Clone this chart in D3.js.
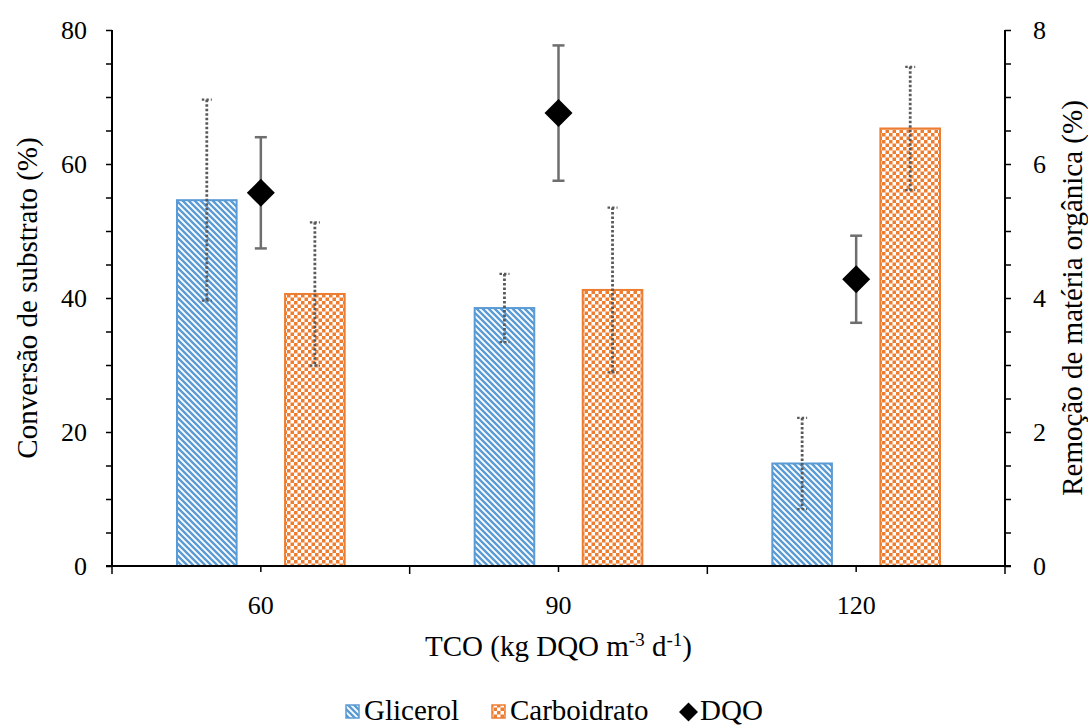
<!DOCTYPE html>
<html>
<head>
<meta charset="utf-8">
<script src="https://cdn.jsdelivr.net/npm/d3@7"></script>
<style>
  body { margin: 0; background: #fff; }
  text { font-family: "Liberation Serif", "Times New Roman", serif; fill: #000; }
</style>
</head>
<body>
<script>
// data
var categories = ["60", "90", "120"];
var series = ["Glicerol", "Carboidrato"];
var glicerol = [54.6, 38.5, 15.3];
var glicerolErr = [15.0, 5.1, 6.8];
var carboidrato = [40.6, 41.2, 65.3];
var carboidratoErr = [10.7, 12.3, 9.2];
var dqo = [5.57, 6.76, 4.28];
var dqoErr = [0.83, 1.01, 0.65];
var leftTicks = [0, 20, 40, 60, 80];
var rightTicks = [0, 2, 4, 6, 8];

var W = 1088, H = 727;
var pLeft = 112, pRight = 1005, pTop = 30, pBottom = 566;

var svg = d3.select("body").append("svg")
    .attr("width", W)
    .attr("height", H);

var defs = svg.append("defs");

// blue downward diagonal hatch
var pBlue = defs.append("pattern")
    .attr("id", "hatchBlue")
    .attr("patternUnits", "userSpaceOnUse")
    .attr("width", 6).attr("height", 6);
pBlue.append("rect").attr("width", 6).attr("height", 6).attr("fill", "#fff");
pBlue.append("path")
    .attr("d", "M-1,-1 L7,7 M-4,2 L1,7 M2,-4 L7,1")
    .attr("stroke", "#5b9bd5")
    .attr("stroke-width", 2.4);

// orange checker
var pOr = defs.append("pattern")
    .attr("id", "checkOrange")
    .attr("patternUnits", "userSpaceOnUse")
    .attr("width", 7).attr("height", 7);
pOr.append("rect").attr("width", 7).attr("height", 7).attr("fill", "#fff");
pOr.append("rect").attr("x", 0).attr("y", 0).attr("width", 3.5).attr("height", 3.5).attr("fill", "#ed7d31");
pOr.append("rect").attr("x", 3.5).attr("y", 3.5).attr("width", 3.5).attr("height", 3.5).attr("fill", "#ed7d31");

var x = d3.scaleBand().domain(categories).range([pLeft, pRight]);
var bw = x.bandwidth();
var xSub = d3.scaleBand().domain(series)
    .range([bw * 0.215, bw * 0.785])
    .paddingInner(0.43);
var y = d3.scaleLinear().domain([0, 80]).range([pBottom, pTop]);
var y2 = d3.scaleLinear().domain([0, 8]).range([pBottom, pTop]);

var fills = { "Glicerol": "url(#hatchBlue)", "Carboidrato": "url(#checkOrange)" };
var strokes = { "Glicerol": "#5b9bd5", "Carboidrato": "#ed7d31" };
var vals = { "Glicerol": glicerol, "Carboidrato": carboidrato };
var errs = { "Glicerol": glicerolErr, "Carboidrato": carboidratoErr };

// bars
series.forEach(function(s) {
  svg.append("g").selectAll("rect")
      .data(categories)
    .enter().append("rect")
      .attr("x", function(c) { return x(c) + xSub(s) + 1; })
      .attr("y", function(c, i) { return y(vals[s][i]); })
      .attr("width", xSub.bandwidth() - 2)
      .attr("height", function(c, i) { return pBottom - y(vals[s][i]); })
      .attr("fill", fills[s])
      .attr("stroke", strokes[s])
      .attr("stroke-width", 2);
});

// dotted error bars on the bars
series.forEach(function(s) {
  var g = svg.append("g").selectAll("g")
      .data(categories)
    .enter().append("g")
      .attr("stroke", "#595959")
      .attr("stroke-width", 2.8)
      .attr("stroke-dasharray", "2.5,2");
  var cx = function(c) { return x(c) + xSub(s) + xSub.bandwidth() / 2; };
  g.append("line")
      .attr("x1", cx).attr("x2", cx)
      .attr("y1", function(c, i) { return y(vals[s][i] + errs[s][i]); })
      .attr("y2", function(c, i) { return y(vals[s][i] - errs[s][i]); });
  [1, -1].forEach(function(sign) {
    g.append("line")
        .attr("x1", function(c) { return cx(c) - 5; })
        .attr("x2", function(c) { return cx(c) + 5; })
        .attr("y1", function(c, i) { return y(vals[s][i] + sign * errs[s][i]); })
        .attr("y2", function(c, i) { return y(vals[s][i] + sign * errs[s][i]); })
        .attr("stroke-width", 2.2);
  });
});

// DQO error bars + diamonds (right axis)
var dg = svg.append("g").selectAll("g")
    .data(categories)
  .enter().append("g");
var dx = function(c) { return x(c) + bw / 2; };
dg.append("line")
    .attr("x1", dx).attr("x2", dx)
    .attr("y1", function(c, i) { return y2(dqo[i] + dqoErr[i]); })
    .attr("y2", function(c, i) { return y2(dqo[i] - dqoErr[i]); })
    .attr("stroke", "#6e6e6e").attr("stroke-width", 2.5);
[1, -1].forEach(function(sign) {
  dg.append("line")
      .attr("x1", function(c) { return dx(c) - 6; })
      .attr("x2", function(c) { return dx(c) + 6; })
      .attr("y1", function(c, i) { return y2(dqo[i] + sign * dqoErr[i]); })
      .attr("y2", function(c, i) { return y2(dqo[i] + sign * dqoErr[i]); })
      .attr("stroke", "#6e6e6e").attr("stroke-width", 2.5);
});
dg.append("path")
    .attr("d", "M0,-14 L14,0 L0,14 L-14,0 Z")
    .attr("transform", function(c, i) { return "translate(" + dx(c) + "," + y2(dqo[i]) + ")"; })
    .attr("fill", "#000");

// axes
var yAxis = svg.append("g")
    .attr("transform", "translate(" + pLeft + ",0)")
    .call(d3.axisLeft(y).tickValues(d3.range(0, 81, 5)).tickSize(6)
      .tickFormat(function(d) { return leftTicks.indexOf(d) >= 0 ? d : ""; }));
var y2Axis = svg.append("g")
    .attr("transform", "translate(" + pRight + ",0)")
    .call(d3.axisRight(y2).tickValues(d3.range(0, 8.01, 0.5)).tickSize(6)
      .tickFormat(function(d) { return rightTicks.indexOf(d) >= 0 ? d : ""; }));
var xAxis = svg.append("g")
    .attr("transform", "translate(0," + pBottom + ")")
    .call(d3.axisBottom(x).tickSize(0).tickPadding(30));

[yAxis, y2Axis, xAxis].forEach(function(a) {
  a.attr("font-family", null);
  a.select(".domain").attr("stroke", "#000").attr("stroke-width", 2);
  a.selectAll(".tick line").attr("stroke", "#000").attr("stroke-width", 1.5);
  a.selectAll("text").style("font-size", "26px");
});
yAxis.selectAll("text").attr("x", -25);
y2Axis.selectAll("text").attr("x", 28);
yAxis.select(".domain").attr("d", "M0," + pBottom + "V" + pTop);
y2Axis.select(".domain").attr("d", "M0," + pBottom + "V" + pTop);
xAxis.select(".domain").attr("d", "M" + (pLeft - 6) + ",0H" + (pRight + 6));

// x ticks: boundaries long, centres short
var xt = svg.append("g").attr("stroke", "#000").attr("stroke-width", 1.5);
xt.selectAll("line.b")
    .data(categories.concat(["end"]))
  .enter().append("line")
    .attr("x1", function(c, i) { return i < 3 ? x(c) : pRight; })
    .attr("x2", function(c, i) { return i < 3 ? x(c) : pRight; })
    .attr("y1", pBottom).attr("y2", pBottom + 8);
xt.selectAll("line.c")
    .data(categories)
  .enter().append("line")
    .attr("x1", function(c) { return x(c) + bw / 2; })
    .attr("x2", function(c) { return x(c) + bw / 2; })
    .attr("y1", pBottom).attr("y2", pBottom + 6);

// axis titles
svg.append("text")
    .attr("transform", "translate(27," + ((pTop + pBottom) / 2) + ") rotate(-90)")
    .attr("text-anchor", "middle")
    .attr("dy", "0.35em")
    .style("font-size", "29px")
    .text("Conversão de substrato (%)");
svg.append("text")
    .attr("transform", "translate(1072," + ((pTop + pBottom) / 2) + ") rotate(-90)")
    .attr("text-anchor", "middle")
    .attr("dy", "0.35em")
    .style("font-size", "29px")
    .text("Remoção de matéria orgânica (%)");
var xt2 = svg.append("text")
    .attr("x", (pLeft + pRight) / 2)
    .attr("y", 656)
    .attr("text-anchor", "middle")
    .style("font-size", "29px");
xt2.append("tspan").text("TCO (kg DQO m");
xt2.append("tspan").attr("dy", -10).style("font-size", "19px").text("-3");
xt2.append("tspan").attr("dy", 10).text(" d");
xt2.append("tspan").attr("dy", -10).style("font-size", "19px").text("-1");
xt2.append("tspan").attr("dy", 10).text(")");

// legend
var legend = svg.append("g").attr("transform", "translate(0,711)");
var items = [
  { name: "Glicerol", x: 346, kind: "rect", fill: "url(#hatchBlue)", stroke: "#5b9bd5" },
  { name: "Carboidrato", x: 492, kind: "rect", fill: "url(#checkOrange)", stroke: "#ed7d31" },
  { name: "DQO", x: 679, kind: "diamond" }
];
items.forEach(function(it) {
  if (it.kind === "rect") {
    legend.append("rect")
        .attr("x", it.x).attr("y", -6)
        .attr("width", 13).attr("height", 13)
        .attr("fill", it.fill).attr("stroke", it.stroke).attr("stroke-width", 1.5);
  } else {
    legend.append("path")
        .attr("d", "M0,-9.5 L9.5,0 L0,9.5 L-9.5,0 Z")
        .attr("transform", "translate(" + (it.x + 9.5) + ",1)")
        .attr("fill", "#000");
  }
  legend.append("text")
      .attr("x", it.kind === "rect" ? it.x + 18 : it.x + 21)
      .attr("dy", "0.32em")
      .style("font-size", "29px")
      .text(it.name);
});
</script>
</body>
</html>
